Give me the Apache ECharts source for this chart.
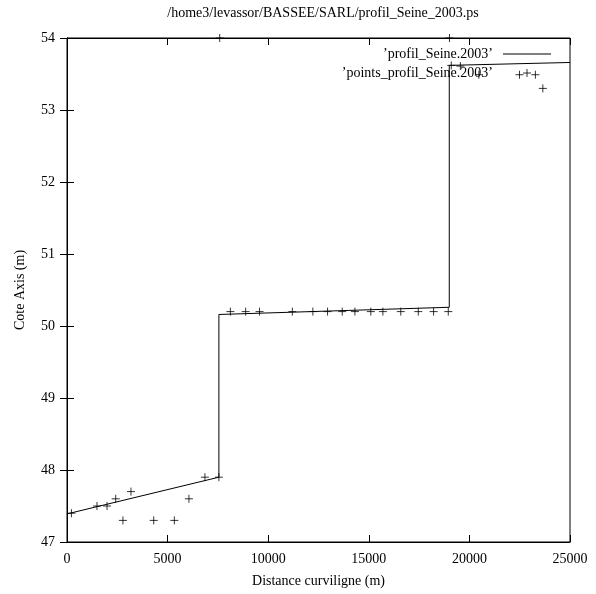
<!DOCTYPE html>
<html><head><meta charset="utf-8">
<script src="https://cdn.jsdelivr.net/npm/echarts@6/dist/echarts.min.js"></script>
<style>html,body{margin:0;padding:0;background:#fff}#c{width:596px;height:594px}</style>
</head><body><div id="c"></div>
<script>
var titleText = "/home3/levassor/BASSEE/SARL/profil_Seine_2003.ps";
var xName = "Distance curviligne (m)";
var yName = "Cote Axis (m)";
var lineName = "\u2019profil_Seine.2003\u2019";
var pointsName = "\u2019points_profil_Seine.2003\u2019";
// profile line
var lineX = [0, 7550, 7550, 19000, 19000, 25000];
var lineY = [47.39, 47.9, 50.16, 50.26, 53.62, 53.66];
// measured points
var ptsX = [220, 1490, 1990, 2420, 3180, 2780, 4310, 5335, 6060, 6855, 7550,
  8120, 8880, 9570, 11200, 12220, 12950, 13680, 14310, 15100, 15700, 16590, 17460, 18220, 18950,
  7590, 19010, 19100, 19550, 20470, 22490, 23280, 23650];
var ptsY = [47.4, 47.5, 47.5, 47.6, 47.7, 47.3, 47.3, 47.3, 47.6, 47.9, 47.9,
  50.2, 50.2, 50.2, 50.2, 50.2, 50.2, 50.2, 50.2, 50.2, 50.2, 50.2, 50.2, 50.2, 50.2,
  54.0, 54.0, 53.62, 53.61, 53.49, 53.49, 53.49, 53.3];

var font = "Liberation Serif";
var plus = 'path://M0,4L8,4M4,0L4,8';
var bar = 'path://M0,0L48,0L48,1L0,1Z';
var chart = echarts.init(document.getElementById('c'), null, {renderer: 'canvas'});
var tickStyle = {show: true, inside: true, length: 7, lineStyle: {color: '#000', width: 1}};
chart.setOption({
  animation: false,
  backgroundColor: '#fff',
  title: {text: titleText, left: 318, textAlign: 'center', top: 1,
    textStyle: {fontFamily: font, fontSize: 14, fontWeight: 'normal', color: '#000'}},
  grid: {left: 67, right: 26, top: 38, bottom: 52, show: true, borderColor: '#000', borderWidth: 1},
  legend: {
    orient: 'vertical', right: 40, top: 42, align: 'right', itemGap: 5,
    itemWidth: 48, itemHeight: 8, padding: 5,
    textStyle: {fontFamily: font, fontSize: 14, color: '#000', padding: [0, 5, 0, 0]},
    data: [
      {name: lineName, icon: bar, itemStyle: {color: '#000', borderWidth: 0}},
      {name: pointsName, icon: plus, itemStyle: {color: 'rgba(0,0,0,0)', borderColor: '#000', borderWidth: 1}}
    ]
  },
  xAxis: [{
    type: 'value', min: 0, max: 25000, interval: 5000, position: 'bottom',
    name: xName, nameLocation: 'middle', nameGap: 32,
    nameTextStyle: {fontFamily: font, fontSize: 14, color: '#000'},
    axisLine: {lineStyle: {color: '#000'}}, axisTick: tickStyle,
    axisLabel: {fontFamily: font, fontSize: 14, color: '#000', margin: 10,
      formatter: function (v) { return String(v); }},
    splitLine: {show: false}
  }, {
    type: 'value', min: 0, max: 25000, interval: 5000, position: 'top',
    axisLine: {lineStyle: {color: '#000'}}, axisTick: tickStyle,
    axisLabel: {show: false}, splitLine: {show: false}
  }],
  yAxis: [{
    type: 'value', min: 47, max: 54, interval: 1, position: 'left',
    name: yName, nameLocation: 'middle', nameGap: 40,
    nameTextStyle: {fontFamily: font, fontSize: 14, color: '#000'},
    axisLine: {lineStyle: {color: '#000'}}, axisTick: tickStyle,
    axisLabel: {fontFamily: font, fontSize: 14, color: '#000', margin: 12},
    splitLine: {show: false}
  }, {
    type: 'value', min: 47, max: 54, interval: 1, position: 'right',
    axisLine: {show: true, lineStyle: {color: '#000'}}, axisTick: tickStyle,
    axisLabel: {show: false}, splitLine: {show: false}
  }],
  series: [{
    name: lineName, type: 'line', xAxisIndex: 0, yAxisIndex: 0,
    data: lineX.map(function (x, i) { return [x, lineY[i]]; }),
    showSymbol: false, symbol: 'none',
    lineStyle: {color: '#000', width: 1}, itemStyle: {color: '#000'}
  }, {
    name: pointsName, type: 'scatter', xAxisIndex: 0, yAxisIndex: 0,
    data: ptsX.map(function (x, i) { return [x, ptsY[i]]; }),
    symbol: plus, symbolSize: 8,
    itemStyle: {color: 'rgba(0,0,0,0)', borderColor: '#000', borderWidth: 1}
  }]
});
</script></body></html>
